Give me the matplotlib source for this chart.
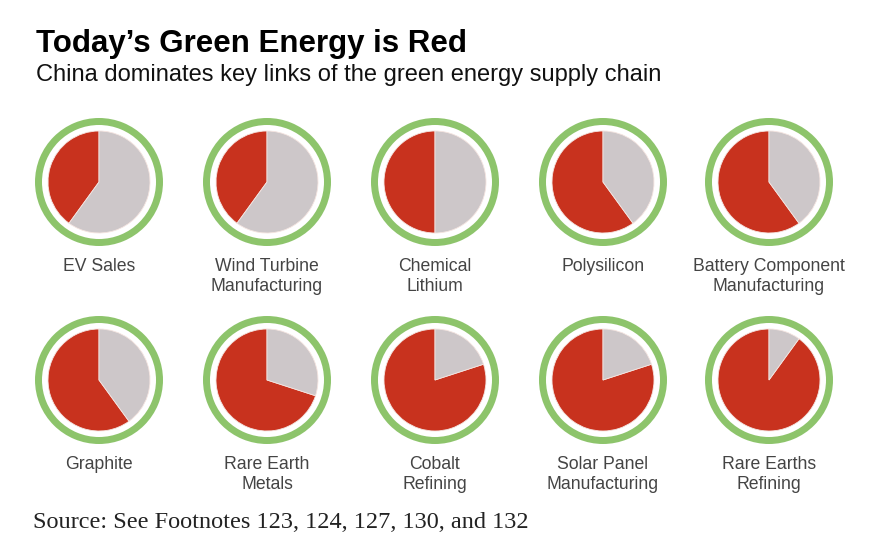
import matplotlib
matplotlib.use('Agg')
import matplotlib.pyplot as plt
from matplotlib.patches import Wedge

LABELS = ['EV Sales', 'Wind Turbine\nManufacturing', 'Chemical\nLithium', 'Polysilicon',
          'Battery Component\nManufacturing', 'Graphite', 'Rare Earth\nMetals', 'Cobalt\nRefining',
          'Solar Panel\nManufacturing', 'Rare Earths\nRefining']
CHINA_SHARE = [40, 40, 50, 60, 60, 60, 70, 80, 80, 90]

RED = '#c8321e'
GREY = '#cdc7c9'
GREEN = '#8dc46b'

W, H = 887, 560
fig = plt.figure(figsize=(W / 100, H / 100), dpi=100)
fig.set_facecolor('white')
ax = fig.add_axes([0, 0, 1, 1])

col_x = [99, 267, 435, 603, 769]
row_y = [182, 380]
pie_r = 51
ring_r = 64
ring_w = 7

for i, (lab, share) in enumerate(zip(LABELS, CHINA_SHARE)):
    cx = col_x[i % 5]
    cy = H - row_y[i // 5]
    ax.pie([share, 100 - share], colors=[RED, GREY], startangle=90, counterclock=True,
           center=(cx, cy), radius=pie_r, wedgeprops=dict(linewidth=0.6, edgecolor='#f4e4e0'))
    ax.add_patch(Wedge((cx, cy), ring_r, 0, 360, width=ring_w, facecolor=GREEN, edgecolor='none'))
    ax.text(cx, cy - 76, lab, ha='center', va='top', fontsize=12.7, color='#444444',
            family='Liberation Sans', linespacing=1.25)

ax.set_xlim(0, W)
ax.set_ylim(0, H)
ax.set_aspect('equal')
ax.axis('off')

fig.text(36 / W, 1 - 44 / H, 'Today\u2019s Green Energy is Red', fontsize=22.5, fontweight='bold',
         family='Liberation Sans', va='center', ha='left', color='black')
fig.text(36 / W, 1 - 75 / H, 'China dominates key links of the green energy supply chain',
         fontsize=17, family='Liberation Sans', va='center', ha='left', color='#111111')
fig.text(33 / W, 1 - 522 / H, 'Source: See Footnotes 123, 124, 127, 130, and 132',
         fontsize=17.5, family='Liberation Serif', va='center', ha='left', color='#222222')

fig.savefig('out.png', dpi=100)
